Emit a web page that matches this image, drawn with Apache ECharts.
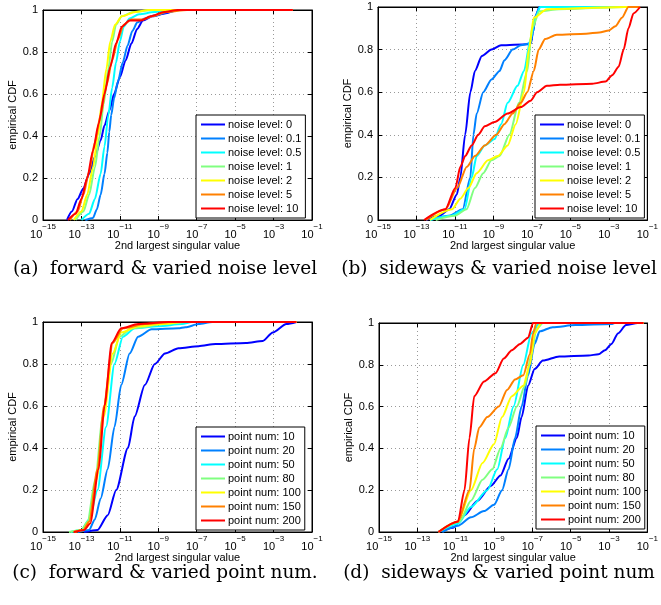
<!DOCTYPE html>
<html><head><meta charset="utf-8">
<script src="https://cdn.jsdelivr.net/npm/echarts@6/dist/echarts.min.js"></script>
<style>html,body{margin:0;padding:0;background:#fff}#c{width:661px;height:605px}</style>
</head><body><div id="c"></div>
<script>
// x values are log10 of the "2nd largest singular value"
const xTickExps = [-15,-13,-11,-9,-7,-5,-3,-1];
const yTicks = [0,0.2,0.4,0.6,0.8,1];
const colors = ['#0000ff','#0080ff','#00ffff','#80ff80','#ffff00','#ff8000','#ff0000'];
const noiseNames = ['noise level: 0','noise level: 0.1','noise level: 0.5','noise level: 1','noise level: 2','noise level: 5','noise level: 10'];
const pointNames = ['point num: 10','point num: 20','point num: 50','point num: 80','point num: 100','point num: 150','point num: 200'];
const captions = ['(a)  forward & varied noise level','(b)  sideways & varied noise level','(c)  forward & varied point num.','(d)  sideways & varied point num'];

// (a) forward & varied noise level
const fwdNoise = [
 [[-13.75,0],[-13.5,0.04],[-13.2,0.1],[-12.9,0.15],[-12.6,0.22],[-12.3,0.3],[-12.0,0.38],[-11.8,0.45],[-11.55,0.52],[-11.3,0.6],[-11.0,0.68],[-10.7,0.76],[-10.4,0.84],[-10.1,0.91],[-9.8,0.95],[-9.3,0.97],[-8.6,0.985],[-8.0,1],[-2,1]],
 [[-12.8,0],[-12.4,0.01],[-12.2,0.05],[-12.0,0.12],[-11.8,0.22],[-11.65,0.32],[-11.55,0.42],[-11.45,0.5],[-11.3,0.58],[-11.1,0.66],[-10.85,0.75],[-10.6,0.83],[-10.35,0.9],[-10.1,0.94],[-9.7,0.96],[-9.2,0.975],[-8.5,0.99],[-7.9,1],[-2,1]],
 [[-13.0,0],[-12.6,0.03],[-12.3,0.1],[-12.0,0.22],[-11.8,0.35],[-11.6,0.5],[-11.4,0.63],[-11.2,0.75],[-11.0,0.85],[-10.8,0.92],[-10.5,0.96],[-10.0,0.98],[-9.2,0.99],[-8.3,1],[-2,1]],
 [[-13.3,0],[-12.9,0.04],[-12.6,0.12],[-12.3,0.25],[-12.05,0.4],[-11.85,0.55],[-11.6,0.72],[-11.4,0.85],[-11.2,0.93],[-10.9,0.97],[-10.3,0.99],[-9.3,1],[-2,1]],
 [[-13.4,0],[-13.0,0.04],[-12.7,0.12],[-12.4,0.25],[-12.15,0.4],[-11.95,0.55],[-11.7,0.72],[-11.5,0.85],[-11.25,0.93],[-10.9,0.97],[-10.2,0.99],[-9.5,1],[-2,1]],
 [[-13.6,0],[-13.2,0.04],[-12.9,0.12],[-12.6,0.23],[-12.3,0.37],[-12.0,0.5],[-11.7,0.64],[-11.4,0.76],[-11.1,0.86],[-10.8,0.93],[-10.4,0.955],[-9.8,0.955],[-9.3,0.97],[-8.6,0.99],[-7.5,1],[-2,1]],
 [[-13.7,0],[-13.3,0.03],[-13.0,0.1],[-12.7,0.2],[-12.4,0.33],[-12.1,0.46],[-11.8,0.6],[-11.5,0.73],[-11.2,0.84],[-10.9,0.92],[-10.5,0.95],[-9.9,0.95],[-9.4,0.97],[-8.7,0.99],[-8.0,1],[-2,1]]
];

// (b) sideways & varied noise level
const sideNoise = [
 [[-12.5,0],[-11.8,0.02],[-11.3,0.05],[-10.9,0.12],[-10.72,0.2],[-10.47,0.4],[-10.2,0.6],[-9.96,0.7],[-9.6,0.77],[-9.1,0.8],[-8.6,0.82],[-7.24,0.825],[-7.05,0.83],[-6.95,0.88],[-6.8,0.96],[-6.6,1],[-1.4,1]],
 [[-12.3,0],[-11.3,0.02],[-10.6,0.05],[-10.2,0.2],[-10.04,0.4],[-9.87,0.5],[-9.53,0.6],[-9.1,0.66],[-8.68,0.7],[-8.43,0.75],[-8.0,0.8],[-7.58,0.82],[-7.07,0.83],[-6.95,0.88],[-6.8,0.96],[-6.6,1],[-1.4,1]],
 [[-12.3,0],[-11.2,0.02],[-10.5,0.05],[-10.13,0.2],[-9.87,0.3],[-9.45,0.35],[-8.94,0.38],[-8.6,0.45],[-8.26,0.55],[-7.75,0.63],[-7.41,0.7],[-7.07,0.85],[-6.82,0.95],[-6.56,1],[-1.4,1]],
 [[-12.0,0],[-11.0,0.02],[-10.4,0.05],[-9.96,0.15],[-9.53,0.22],[-9.1,0.28],[-8.68,0.3],[-8.17,0.4],[-7.67,0.55],[-7.24,0.7],[-6.99,0.9],[-6.6,0.98],[-5.6,0.99],[-2.2,1],[-1.4,1]],
 [[-12.3,0],[-11.15,0.05],[-10.72,0.1],[-10.3,0.15],[-9.87,0.22],[-9.28,0.28],[-8.77,0.3],[-8.26,0.35],[-7.84,0.45],[-7.41,0.6],[-7.16,0.8],[-6.9,0.95],[-6.22,0.99],[-2.15,1],[-1.4,1]],
 [[-12.5,0],[-11.49,0.05],[-10.89,0.15],[-10.38,0.25],[-9.96,0.3],[-9.45,0.35],[-8.85,0.4],[-8.43,0.45],[-8.0,0.5],[-7.58,0.55],[-7.24,0.6],[-6.9,0.7],[-6.65,0.8],[-6.31,0.85],[-5.71,0.87],[-4.18,0.875],[-3.5,0.88],[-3.0,0.89],[-2.66,0.91],[-2.32,0.95],[-1.98,1],[-1.4,1]],
 [[-12.6,0],[-11.5,0.05],[-10.98,0.15],[-10.72,0.25],[-10.47,0.3],[-10.13,0.35],[-9.79,0.4],[-9.45,0.44],[-8.94,0.46],[-8.26,0.5],[-7.58,0.53],[-7.07,0.56],[-6.73,0.6],[-6.22,0.63],[-5.54,0.635],[-3.85,0.64],[-3.17,0.65],[-2.83,0.68],[-2.49,0.72],[-2.23,0.8],[-1.98,0.9],[-1.72,0.97],[-1.38,1]]
];

// (c) forward & varied point num.
const fwdPoint = [
 [[-12.86,0],[-12.16,0.01],[-11.63,0.08],[-11.19,0.2],[-10.58,0.4],[-10.23,0.55],[-9.7,0.7],[-9.18,0.8],[-8.65,0.85],[-7.95,0.875],[-6.9,0.885],[-6.02,0.895],[-4.44,0.9],[-3.56,0.91],[-3.04,0.95],[-2.33,0.99],[-1.81,1]],
 [[-13.2,0],[-12.6,0.01],[-12.3,0.06],[-12.0,0.16],[-11.63,0.3],[-11.28,0.5],[-10.93,0.7],[-10.49,0.85],[-10.05,0.93],[-9.35,0.965],[-7.95,0.97],[-7.6,0.975],[-6.9,0.99],[-6.19,1],[-1.81,1]],
 [[-13.56,0],[-13.0,0.01],[-12.6,0.06],[-12.16,0.2],[-11.72,0.5],[-11.28,0.8],[-10.84,0.93],[-10.23,0.97],[-9.0,0.98],[-7.77,0.99],[-7.25,1],[-1.81,1]],
 [[-13.65,0],[-13.0,0.01],[-12.68,0.05],[-12.28,0.25],[-11.89,0.55],[-11.46,0.8],[-11.02,0.93],[-10.4,0.97],[-8.65,0.99],[-7.6,1],[-1.81,1]],
 [[-13.4,0],[-12.9,0.01],[-12.6,0.05],[-12.21,0.25],[-11.84,0.55],[-11.37,0.85],[-10.93,0.95],[-10.05,0.98],[-8.82,0.99],[-7.7,1],[-1.81,1]],
 [[-13.4,0],[-12.9,0.01],[-12.6,0.05],[-12.16,0.3],[-11.84,0.6],[-11.37,0.9],[-10.84,0.97],[-9.7,0.99],[-8.3,1],[-1.81,1]],
 [[-13.4,0],[-12.85,0.01],[-12.55,0.04],[-12.1,0.3],[-11.8,0.6],[-11.42,0.9],[-10.93,0.97],[-10.05,0.99],[-8.47,1],[-1.81,1]]
];

// (d) sideways & varied point num
const sidePoint = [
 [[-11.9,0],[-11.13,0.02],[-10.54,0.08],[-9.86,0.15],[-9.17,0.22],[-8.66,0.27],[-8.24,0.35],[-7.81,0.45],[-7.56,0.55],[-7.22,0.7],[-6.88,0.78],[-6.45,0.82],[-5.6,0.84],[-4.07,0.845],[-3.55,0.85],[-3.21,0.87],[-2.87,0.9],[-2.53,0.95],[-2.11,0.99],[-1.51,1],[-1.2,1]],
 [[-11.7,0],[-10.88,0.03],[-10.2,0.07],[-9.52,0.1],[-9.0,0.13],[-8.58,0.2],[-8.24,0.3],[-7.9,0.45],[-7.56,0.6],[-7.22,0.75],[-6.88,0.9],[-6.62,0.96],[-5.94,0.98],[-4.75,0.99],[-2.87,0.995],[-2.7,1],[-1.2,1]],
 [[-11.9,0],[-10.88,0.04],[-10.2,0.12],[-9.35,0.2],[-8.83,0.3],[-8.41,0.45],[-7.98,0.6],[-7.47,0.8],[-7.05,0.95],[-6.62,1],[-1.2,1]],
 [[-11.9,0],[-10.8,0.05],[-10.2,0.15],[-9.6,0.25],[-9.09,0.3],[-8.66,0.4],[-8.24,0.5],[-7.81,0.6],[-7.39,0.7],[-7.05,0.85],[-6.79,0.97],[-6.45,1],[-1.2,1]],
 [[-11.9,0],[-10.88,0.05],[-10.2,0.2],[-9.6,0.33],[-9.0,0.42],[-8.58,0.55],[-8.07,0.65],[-7.47,0.7],[-7.13,0.8],[-6.88,0.95],[-6.54,1],[-1.2,1]],
 [[-11.9,0],[-10.88,0.05],[-10.28,0.2],[-10.03,0.4],[-9.77,0.5],[-9.35,0.55],[-8.75,0.6],[-8.32,0.68],[-7.9,0.73],[-7.47,0.75],[-7.13,0.85],[-6.96,0.95],[-6.79,1],[-1.2,1]],
 [[-11.9,0],[-10.88,0.05],[-10.54,0.2],[-10.28,0.45],[-10.03,0.65],[-9.52,0.72],[-8.92,0.76],[-8.49,0.83],[-8.07,0.87],[-7.64,0.9],[-7.22,0.93],[-6.96,1],[-1.2,1]]
];

const panels = [
  {data: fwdNoise, names: noiseNames, grid: {left:43, top:10, width:269, height:210}, legend:{left:196, top:115}, cap:{x:165, y:269}},
  {data: sideNoise, names: noiseNames, grid: {left:378, top:7, width:275, height:213}, legend:{left:535, top:115}, cap:{x:499, y:269}},
  {data: fwdPoint, names: pointNames, grid: {left:43, top:322, width:269, height:210}, legend:{left:196, top:427}, cap:{x:165, y:573}},
  {data: sidePoint, names: pointNames, grid: {left:379, top:323, width:274, height:209}, legend:{left:536, top:426}, cap:{x:499, y:573}}
];

const FONT = '"Liberation Sans", Arial, sans-serif';
const grids = [], xAxes = [], yAxes = [], series = [], legends = [], graphics = [];
panels.forEach((p, k) => {
  grids.push(Object.assign({show:true, borderColor:'#000', borderWidth:1, backgroundColor:'#fff'}, p.grid));
  const baseX = {type:'value', gridIndex:k, min:xTickExps[0], max:xTickExps[xTickExps.length-1], interval:2,
    axisLine:{show:true, onZero:false, lineStyle:{color:'#000', width:1}},
    axisTick:{show:true, inside:true, length:4, lineStyle:{color:'#000'}}};
  xAxes.push(Object.assign({}, baseX, {position:'bottom',
    name:'2nd largest singular value', nameLocation:'middle', nameGap:19,
    nameTextStyle:{fontFamily:FONT, fontSize:11, color:'#000'},
    splitLine:{show:true, lineStyle:{type:[1,3], color:'#999', width:1}},
    axisLabel:{show:true, margin:3, fontFamily:FONT, color:'#000',
      formatter: v => '{b|10}{s|' + String(v).replace('-', '\u2212') + '}',
      rich:{b:{fontSize:11, fontFamily:FONT, color:'#000', verticalAlign:'bottom', lineHeight:17},
            s:{fontSize:8, fontFamily:FONT, color:'#000', verticalAlign:'top', lineHeight:10}}}}));
  xAxes.push(Object.assign({}, baseX, {position:'top', axisLabel:{show:false}, splitLine:{show:false}}));
  const baseY = {type:'value', gridIndex:k, min:0, max:1, interval:0.2,
    axisLine:{show:true, onZero:false, lineStyle:{color:'#000', width:1}},
    axisTick:{show:true, inside:true, length:4, lineStyle:{color:'#000'}}};
  yAxes.push(Object.assign({}, baseY, {position:'left',
    name:'empirical CDF', nameLocation:'middle', nameGap:24,
    nameTextStyle:{fontFamily:FONT, fontSize:11, color:'#000'},
    splitLine:{show:true, lineStyle:{type:[1,3], color:'#999', width:1}},
    axisLabel:{show:true, margin:5, fontFamily:FONT, fontSize:11, color:'#000',
      formatter: v => (yTicks.indexOf(Math.round(v*10)/10) >= 0 ? String(Math.round(v*10)/10) : '')}}));
  yAxes.push(Object.assign({}, baseY, {position:'right', axisLabel:{show:false}, splitLine:{show:false}}));
  p.data.forEach((d, i) => {
    series.push({type:'line', name:p.names[i], xAxisIndex:2*k, yAxisIndex:2*k, data:d,
      showSymbol:false, symbol:'none', smooth:0.25, smoothMonotone:'x',
      lineStyle:{color:colors[i], width:2}, itemStyle:{color:colors[i]}, z:2+i});
  });
  legends.push({orient:'vertical', left:p.legend.left, top:p.legend.top, data:p.names,
    icon:'path://M0,0H24V2H0Z',
    backgroundColor:'#fff', borderColor:'#000', borderWidth:1, borderRadius:0,
    padding:[4,4,4,5], itemWidth:24, itemHeight:11, itemGap:3,
    textStyle:{fontFamily:FONT, fontSize:11, color:'#000', padding:[0,0,0,-2]}, selectedMode:false, z:10});
  graphics.push({type:'text', x:p.cap.x, y:p.cap.y,
    style:{text:captions[k], font:'18.5px "DejaVu Serif", serif', fill:'#000',
      textAlign:'center', textVerticalAlign:'middle'}});
});

const chart = echarts.init(document.getElementById('c'), null, {renderer:'canvas'});
chart.setOption({animation:false, backgroundColor:'#fff', grid:grids, xAxis:xAxes, yAxis:yAxes,
  series:series, legend:legends, graphic:graphics});
</script></body></html>
